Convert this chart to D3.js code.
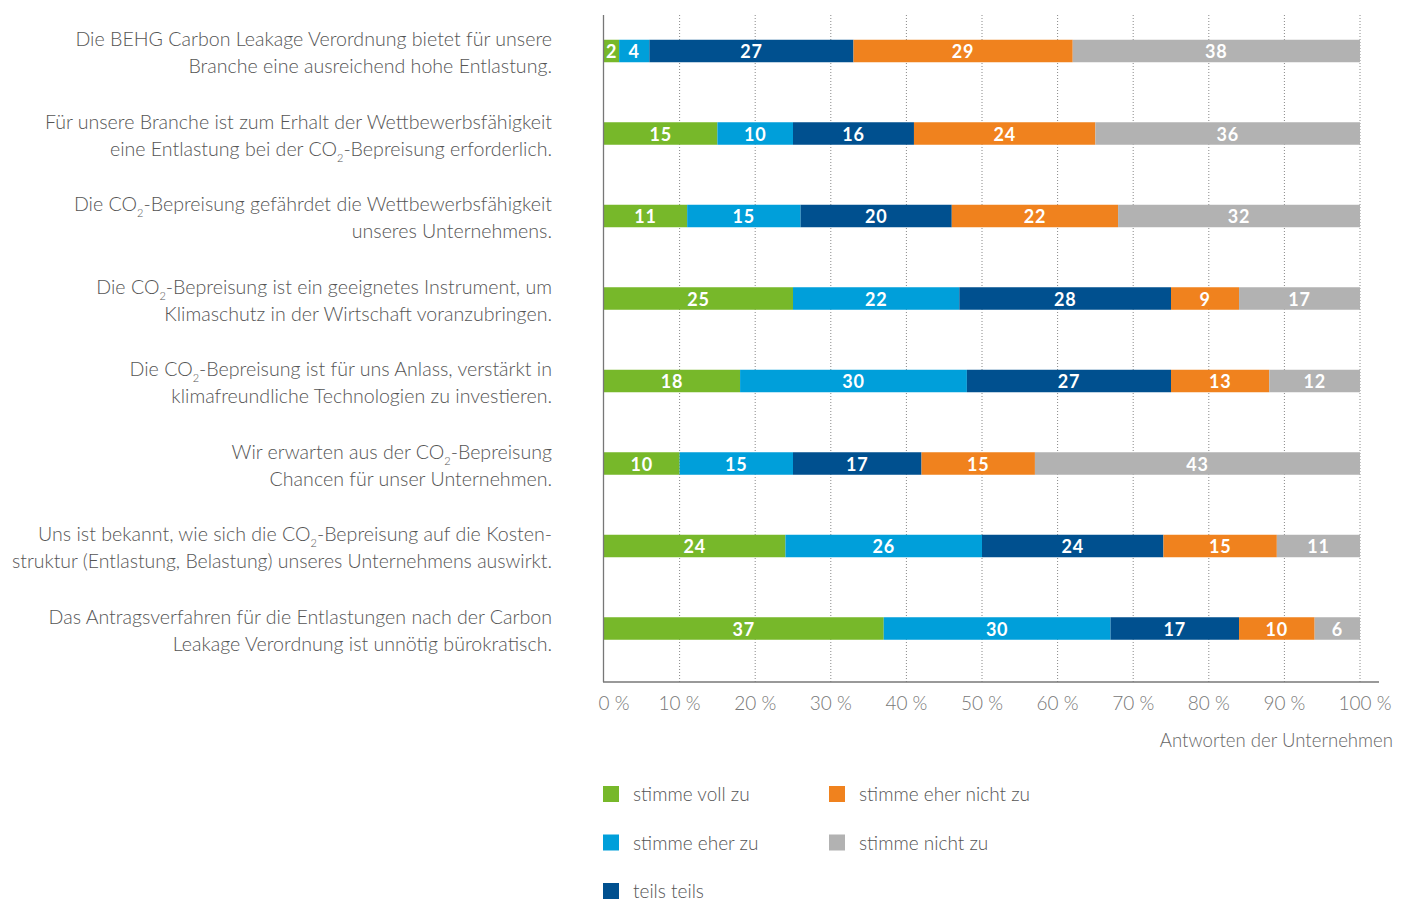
<!DOCTYPE html>
<html>
<head>
<meta charset="utf-8">
<script src="https://cdn.jsdelivr.net/npm/d3@7"></script>
<style>
  body { margin: 0; background: #fff; }
  svg { font-family: Lato, "Open Sans", sans-serif; }
</style>
</head>
<body>
<div id="chart"></div>
<script>
// statements, two lines each ("CO2" gets a subscript 2)
const statements = [
  ["Die BEHG Carbon Leakage Verordnung bietet für unsere", "Branche eine ausreichend hohe Entlastung."],
  ["Für unsere Branche ist zum Erhalt der Wettbewerbsfähigkeit", "eine Entlastung bei der CO2-Bepreisung erforderlich."],
  ["Die CO2-Bepreisung gefährdet die Wettbewerbsfähigkeit", "unseres Unternehmens."],
  ["Die CO2-Bepreisung ist ein geeignetes Instrument, um", "Klimaschutz in der Wirtschaft voranzubringen."],
  ["Die CO2-Bepreisung ist für uns Anlass, verstärkt in", "klimafreundliche Technologien zu investieren."],
  ["Wir erwarten aus der CO2-Bepreisung", "Chancen für unser Unternehmen."],
  ["Uns ist bekannt, wie sich die CO2-Bepreisung auf die Kosten-", "struktur (Entlastung, Belastung) unseres Unternehmens auswirkt."],
  ["Das Antragsverfahren für die Entlastungen nach der Carbon", "Leakage Verordnung ist unnötig bürokratisch."]
];

const answers = ["stimme voll zu", "stimme eher zu", "teils teils", "stimme eher nicht zu", "stimme nicht zu"];
const answerColors = ["#77b82a", "#009fda", "#00508f", "#f0821e", "#b2b2b2"];

// per-statement values in % (same order as answers)
const vollZu      = [2, 15, 11, 25, 18, 10, 24, 37];
const eherZu      = [4, 10, 15, 22, 30, 15, 26, 30];
const teilsTeils  = [27, 16, 20, 28, 27, 17, 24, 17];
const eherNicht   = [29, 24, 22, 9, 13, 15, 15, 10];
const nichtZu     = [38, 36, 32, 17, 12, 43, 11, 6];

const tickValues = [0, 10, 20, 30, 40, 50, 60, 70, 80, 90, 100];
const axisTitle = "Antworten der Unternehmen";

const width = 1409, height = 902;
const svg = d3.select("#chart").append("svg")
  .attr("width", width)
  .attr("height", height);

const x = d3.scaleLinear().domain([0, 100]).range([604, 1360]).clamp(true);
const y = d3.scalePoint().domain(d3.range(statements.length)).range([51, 628.5]);
const barH = 22.5;

// gridlines (dotted)
svg.append("g")
  .selectAll("line")
  .data(tickValues.slice(1))
  .join("line")
  .attr("x1", d => x(d)).attr("x2", d => x(d))
  .attr("y1", 15).attr("y2", 682)
  .attr("stroke", "#888")
  .attr("stroke-width", 1)
  .attr("stroke-dasharray", "1,2");

// build stacked rows (rounded values, last segment clipped at 100 %)
const series = [vollZu, eherZu, teilsTeils, eherNicht, nichtZu];
const segs = [];
statements.forEach((s, i) => {
  let cum = 0;
  series.forEach((a, j) => {
    const v = a[i];
    segs.push({row: i, cat: j, value: v, x0: cum, x1: j === series.length - 1 ? 100 : cum + v});
    cum += v;
  });
});

svg.append("g")
  .selectAll("rect")
  .data(segs)
  .join("rect")
  .attr("x", d => x(d.x0))
  .attr("y", d => y(d.row) - barH / 2)
  .attr("width", d => x(d.x1) - x(d.x0))
  .attr("height", barH)
  .attr("fill", d => answerColors[d.cat]);

svg.append("g")
  .selectAll("text")
  .data(segs)
  .join("text")
  .attr("x", d => (x(d.x0) + x(d.x1)) / 2)
  .attr("y", d => y(d.row) + 7)
  .attr("text-anchor", "middle")
  .attr("fill", "#fff")
  .style("font-size", "18px")
  .style("font-weight", 700)
  .style("letter-spacing", "0.8px")
  .text(d => d.value);

// axes lines
svg.append("line")
  .attr("x1", 603.5).attr("x2", 603.5).attr("y1", 15).attr("y2", 682)
  .attr("stroke", "#777").attr("stroke-width", 1.3);
svg.append("line")
  .attr("x1", 603).attr("x2", 1379).attr("y1", 682).attr("y2", 682)
  .attr("stroke", "#777").attr("stroke-width", 1.3);

// tick labels
svg.append("g")
  .selectAll("text")
  .data(tickValues)
  .join("text")
  .attr("x", d => x(d) + (d === 0 ? 10 : d === 100 ? 5 : 0))
  .attr("y", 710)
  .attr("text-anchor", "middle")
  .attr("fill", "#777")
  .style("font-size", "19px")
  .style("font-weight", 300)
  .text(d => d + " %");

svg.append("text")
  .attr("x", 1393).attr("y", 747)
  .attr("text-anchor", "end")
  .attr("fill", "#666")
  .style("font-size", "18.6px")
  .style("font-weight", 300)
  .text(axisTitle);

// statement labels
function addLine(sel, str) {
  const parts = str.split("CO2");
  parts.forEach((p, k) => {
    if (k > 0) {
      sel.append("tspan").text("CO");
      sel.append("tspan").attr("dy", 6).style("font-size", "11px").text("2");
      sel.append("tspan").attr("dy", -6).text(p);
    } else {
      sel.append("tspan").text(p);
    }
  });
}
const maxLabelW = 540;
const labels = svg.append("g");
statements.forEach((lines, i) => {
  lines.forEach((ln, k) => {
    const t = labels.append("text")
      .attr("x", 552)
      .attr("y", y(i) - 5 + k * 27)
      .attr("text-anchor", "end")
      .attr("fill", "#555")
      .style("font-size", "19.6px")
      .style("font-weight", 300);
    addLine(t, ln);
    // squeeze overly long lines so they stay inside the page
    if (t.node().getComputedTextLength() > maxLabelW) {
      t.attr("textLength", maxLabelW).attr("lengthAdjust", "spacingAndGlyphs");
    }
  });
});

// legend
const legend = svg.append("g")
  .selectAll("g")
  .data(answers)
  .join("g")
  .attr("transform", (d, i) => {
    const col = i < 3 ? 0 : 1;
    const row = i < 3 ? i : i - 3;
    return `translate(${603 + col * 226}, ${786 + row * 48.5})`;
  });
legend.append("rect")
  .attr("width", 16).attr("height", 16)
  .attr("fill", (d, i) => answerColors[i]);
legend.append("text")
  .attr("x", 30).attr("y", 15)
  .attr("fill", "#555")
  .style("font-size", "19px")
  .style("font-weight", 300)
  .text(d => d);
</script>
</body>
</html>
